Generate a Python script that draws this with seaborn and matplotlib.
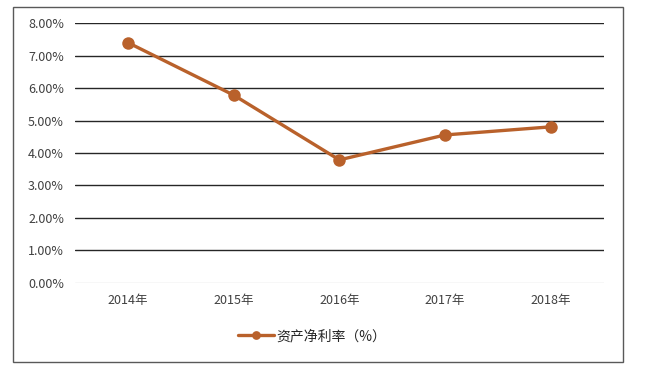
import numpy as np
import pandas as pd
import matplotlib
matplotlib.use('Agg')
import matplotlib.pyplot as plt
import seaborn as sns
from matplotlib.ticker import PercentFormatter
from matplotlib.patches import Rectangle

sns.set_style('white')
plt.rcParams['font.family'] = ['Noto Sans CJK SC', 'DejaVu Sans']

years = ['2014年', '2015年', '2016年', '2017年', '2018年']
roa = [7.41, 5.79, 3.79, 4.56, 4.81]   # 资产净利率 (%)
series_name = '资产净利率（%）'

df = pd.DataFrame({'year': years, 'roa': np.array(roa) / 100})
line_color = '#B9612B'

fig = plt.figure(figsize=(6.47, 3.70), dpi=100)
ax = fig.add_axes([0.116, 0.236, 0.817, 0.7005])

sns.lineplot(data=df, x='year', y='roa', ax=ax, color=line_color, linewidth=2.4,
             marker='o', markersize=9, markeredgewidth=0, label=series_name, sort=False)

ax.set_xlim(-0.5, len(years) - 0.5)
ax.set_ylim(0, 0.08)
ax.set_yticks(np.arange(0, 0.081, 0.01))
ax.yaxis.set_major_formatter(PercentFormatter(1.0, decimals=2))
ax.set_xlabel('')
ax.set_ylabel('')

# horizontal gridlines, the 0% one light grey
for v in np.arange(0.01, 0.081, 0.01):
    ax.axhline(v, color='#262626', linewidth=1.0, zorder=0)
ax.axhline(0, color='#D9D9D9', linewidth=1.0, zorder=0)

for s in ax.spines.values():
    s.set_visible(False)
ax.tick_params(axis='both', length=0, labelsize=9, colors='#404040')
ax.tick_params(axis='y', pad=8)
ax.tick_params(axis='x', pad=8)

leg = ax.legend(loc='center', bbox_to_anchor=(312 / 647, 1 - 336 / 370),
                bbox_transform=fig.transFigure, frameon=False, fontsize=10,
                handlelength=2.6, handletextpad=0.2, markerscale=0.7)
for t in leg.get_texts():
    t.set_color('#262626')

# outer chart frame
fig.patches.append(Rectangle((13 / 647, 1 - 362 / 370), 610 / 647, 355 / 370,
                             transform=fig.transFigure, fill=False,
                             edgecolor='#595959', linewidth=1.0))

fig.savefig('out.png', dpi=100)
